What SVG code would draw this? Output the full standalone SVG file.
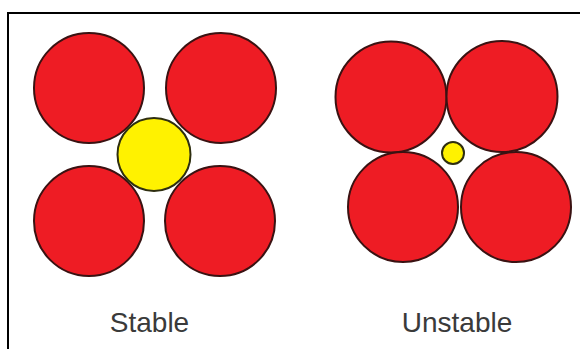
<svg xmlns="http://www.w3.org/2000/svg" width="580" height="349" viewBox="0 0 580 349">
<style>
.big{fill:#ee1c24;stroke:#3a1212;stroke-width:2}
.small{fill:#fff200;stroke:#2e2e10;stroke-width:2}
.lbl{font-family:"Liberation Sans",Arial,sans-serif;font-size:28px;fill:#3a3a3a;text-anchor:middle}
</style>
<rect width="580" height="349" fill="#ffffff"/>
<path d="M8 349 V13 H580" fill="none" stroke="#000" stroke-width="2"/>
<g id="stable">
<circle class="big" cx="89" cy="88" r="55"/>
<circle class="big" cx="221" cy="88" r="55"/>
<circle class="big" cx="89" cy="221" r="55"/>
<circle class="big" cx="220" cy="221" r="55"/>
<circle class="small" cx="154" cy="154.5" r="36.5"/>
<text class="lbl" x="149.5" y="332">Stable</text>
</g>
<g id="unstable">
<circle class="big" cx="391" cy="97" r="55.5"/>
<circle class="big" cx="502" cy="96.5" r="55.5"/>
<circle class="big" cx="403" cy="207" r="55"/>
<circle class="big" cx="516" cy="207" r="55"/>
<circle class="small" cx="453" cy="153" r="11"/>
<text class="lbl" x="457" y="332">Unstable</text>
</g>
<g id="connectors"/>
</svg>
